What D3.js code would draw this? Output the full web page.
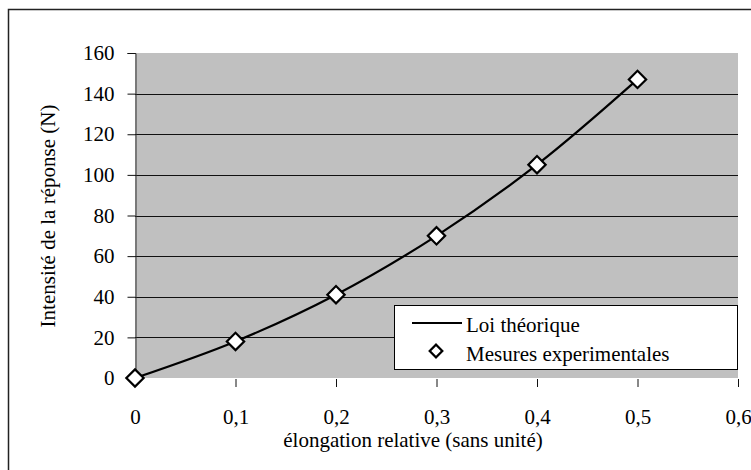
<!DOCTYPE html>
<html>
<head>
<meta charset="utf-8">
<script src="https://cdn.jsdelivr.net/npm/d3@7"></script>
</head>
<body style="margin:0;padding:0;background:#fff;overflow:hidden">
<svg id="chart" width="751" height="470" style="display:block"></svg>
<script>
// Elongation relative (x) and force values
const elongation = [0, 0.1, 0.2, 0.3, 0.4, 0.5];
const theoretical = [0, 18, 41, 70, 105, 147];
const measured = [0, 18, 41, 70, 105, 147];
const xTicks = [0, 0.1, 0.2, 0.3, 0.4, 0.5, 0.6];
const yTicks = [0, 20, 40, 60, 80, 100, 120, 140, 160];
const seriesNames = ["Loi théorique", "Mesures experimentales"];
const xTitle = "élongation relative (sans unité)";
const yTitle = "Intensité de la réponse (N)";

const TXT = "font-family:'Liberation Serif','Times New Roman',serif !important;font-size:21px !important";

const svg = d3.select("#chart");
const plot = { left: 135, right: 738, top: 53, bottom: 378 };

const x = d3.scaleLinear().domain([0, 0.6]).range([plot.left, plot.right]);
const y = d3.scaleLinear().domain([0, 160]).range([plot.bottom, plot.top]);
const fmt = d => String(d).replace(".", ",");

// outer chart frame
svg.append("rect")
  .attr("x", 8.5).attr("y", 9.5).attr("width", 780).attr("height", 500)
  .attr("fill", "#fff").attr("stroke", "#222").attr("stroke-width", 1.5);

// grey plot area
svg.append("rect")
  .attr("x", plot.left).attr("y", plot.top)
  .attr("width", plot.right - plot.left).attr("height", plot.bottom - plot.top)
  .attr("fill", "#c0c0c0");

// horizontal gridlines
svg.append("g").selectAll("line")
  .data(yTicks.filter(v => v > 0 && v < 160))
  .join("line")
  .attr("x1", plot.left).attr("x2", plot.right)
  .attr("y1", d => Math.round(y(d)) + 0.5).attr("y2", d => Math.round(y(d)) + 0.5)
  .attr("stroke", "#111").attr("stroke-width", 1);

// y axis
const yAxis = svg.append("g")
  .attr("transform", `translate(${plot.left + 0.5},0)`)
  .call(d3.axisLeft(y).tickValues(yTicks).tickSize(8).tickPadding(13).tickFormat(d => d));
yAxis.select(".domain").attr("stroke", "#333").attr("stroke-width", 1);
yAxis.selectAll(".tick line").attr("stroke", "#111");
yAxis.selectAll(".tick text").attr("style", TXT).attr("fill", "#000");

// x axis (tick marks only, below the plot)
const xAxis = svg.append("g")
  .attr("transform", `translate(0,${plot.bottom + 1})`)
  .call(d3.axisBottom(x).tickValues(xTicks).tickSize(8).tickPadding(22).tickFormat(fmt));
xAxis.select(".domain").remove();
xAxis.selectAll(".tick line").attr("stroke", "#111");
xAxis.selectAll(".tick text").attr("style", TXT).attr("fill", "#000");

// axis titles
svg.append("text")
  .attr("x", 413).attr("y", 447)
  .attr("text-anchor", "middle").attr("style", TXT).attr("fill", "#000")
  .text(xTitle);
svg.append("text")
  .attr("transform", "translate(55,216) rotate(-90)")
  .attr("text-anchor", "middle").attr("style", TXT).attr("fill", "#000")
  .text(yTitle);

// theoretical law: smooth curve
const line = d3.line()
  .x((d, i) => x(elongation[i]))
  .y(d => y(d))
  .curve(d3.curveCatmullRom.alpha(0.5));
svg.append("path")
  .datum(theoretical)
  .attr("d", line)
  .attr("fill", "none").attr("stroke", "#000").attr("stroke-width", 2.2);

// measured points: white diamonds
const diamond = d3.symbol().type(d3.symbolSquare).size(150);
svg.append("g").selectAll("path")
  .data(measured)
  .join("path")
  .attr("d", diamond)
  .attr("transform", (d, i) => `translate(${x(elongation[i])},${y(d)}) rotate(45)`)
  .attr("fill", "#fff").attr("stroke", "#000").attr("stroke-width", 2.2);

// legend
const lg = svg.append("g");
lg.append("rect")
  .attr("x", 394.5).attr("y", 305.5).attr("width", 343).attr("height", 64)
  .attr("fill", "#fff").attr("stroke", "#000").attr("stroke-width", 1);
lg.append("line")
  .attr("x1", 412).attr("x2", 462).attr("y1", 323).attr("y2", 323)
  .attr("stroke", "#000").attr("stroke-width", 2);
lg.append("path")
  .attr("d", d3.symbol().type(d3.symbolSquare).size(80))
  .attr("transform", "translate(436,351) rotate(45)")
  .attr("fill", "#fff").attr("stroke", "#000").attr("stroke-width", 2.2);
lg.selectAll("text")
  .data(seriesNames)
  .join("text")
  .attr("x", 466).attr("y", (d, i) => 332 + i * 29)
  .attr("style", TXT).attr("fill", "#000")
  .text(d => d);
</script>
</body>
</html>
